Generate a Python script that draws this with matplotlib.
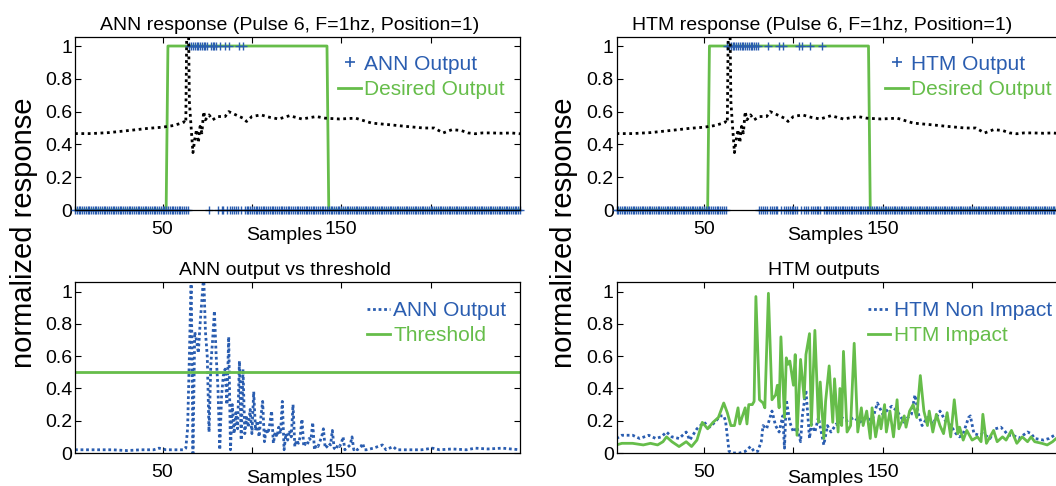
import numpy as np
import matplotlib
matplotlib.use('Agg')
import matplotlib.pyplot as plt
from matplotlib.lines import Line2D

plt.rcParams['font.family'] = ['Liberation Sans', 'DejaVu Sans']

BLUE = '#2a5db0'
GREEN = '#66bd4a'

# --- data ---
samples = np.arange(1, 251)

# samples where the binarised output is 1
ann_ones = [65, 66, 67, 68, 69, 70, 71, 72, 73, 74, 75, 77, 78, 79, 80, 82, 85, 87, 93, 95]
htm_ones = [63, 64, 65, 66, 67, 68, 69, 70, 71, 72, 73, 74, 75, 76, 77, 78, 79, 80,
            86, 92, 94, 103, 105, 109, 116]

desired_x = [1, 52, 53, 142, 143, 250]
desired_y = [0, 0, 1, 1, 0, 0]

threshold_x = [1, 250]
threshold_y = [0.5, 0.5]

# black dotted network response (same in both top panels)
resp_x = [1, 10, 20, 33, 42, 50, 56, 60, 62, 63, 64, 65, 66, 67, 68, 69, 70, 71, 72,
          73, 74, 76, 78, 81, 85, 87, 91, 95, 97, 100, 105, 110, 115, 121, 128, 136,
          141, 149, 158, 167, 177, 186, 196, 202, 207, 212, 217, 221, 225, 229, 234,
          240, 245, 250]
resp_y = [0.466, 0.466, 0.472, 0.487, 0.498, 0.505, 0.515, 0.528, 0.538, 0.53, 1.6,
          0.66, 0.5, 0.35, 0.43, 0.49, 0.41, 0.51, 0.47, 0.6, 0.55, 0.58, 0.55, 0.57,
          0.57, 0.6, 0.58, 0.56, 0.54, 0.57, 0.58, 0.565, 0.555, 0.575, 0.555, 0.57,
          0.56, 0.555, 0.56, 0.53, 0.52, 0.51, 0.5, 0.5, 0.47, 0.49, 0.485, 0.47,
          0.465, 0.47, 0.47, 0.468, 0.47, 0.465]

# ANN continuous output
ann_x = [1, 8, 15, 22, 30, 38, 45, 48, 52, 58,
         60, 61, 62, 63, 64, 65, 66, 67, 68, 69, 70, 71, 72, 73, 74, 75, 76, 77, 78, 79,
         80, 81, 82, 83, 84, 85, 86, 87, 88, 89, 90, 91, 92, 93, 94, 95, 96, 97, 98, 99,
         100, 101, 102, 103, 104, 105, 106, 107, 108, 109, 110, 111, 112, 113, 114, 115,
         116, 117, 118, 119, 120, 121, 122, 123, 124, 125, 126, 127, 128, 129, 130, 131,
         132, 133, 134, 135, 136, 137, 138, 139, 140, 141, 142, 143, 144, 145, 146, 147,
         148, 149, 150, 151, 152, 153, 154, 155, 156, 157, 158, 159, 160, 161, 162, 163,
         164, 168, 173, 175, 179, 181, 188, 195, 201, 205, 212, 220, 225, 232, 240, 245,
         250]
ann_y = [0.02, 0.02, 0.02, 0.02, 0.015, 0.02, 0.02, 0.03, 0.02, 0.02,
         0.02, 0.02, 0.02, 0.03, 0.15, 0.6, 1.1, 0.0, 0.75, 0.7, 0.62, 0.8, 0.95, 1.1,
         0.75, 0.6, 0.13, 0.55, 0.7, 0.88,
         0.6, 0.4, 0.02, 0.35, 0.48, 0.52, 0.3, 0.72, 0.02, 0.3, 0.12, 0.25, 0.15, 0.57,
         0.08, 0.52, 0.12, 0.22, 0.16, 0.27,
         0.12, 0.38, 0.14, 0.2, 0.1, 0.22, 0.32, 0.07, 0.15, 0.12, 0.18, 0.26, 0.06, 0.13,
         0.1, 0.16,
         0.12, 0.32, 0.02, 0.12, 0.08, 0.14, 0.1, 0.3, 0.04, 0.08, 0.06, 0.1, 0.21, 0.04,
         0.06, 0.05,
         0.09, 0.08, 0.19, 0.02, 0.05, 0.04, 0.07, 0.1, 0.15, 0.03, 0.04, 0.06, 0.05,
         0.14, 0.03, 0.02,
         0.05, 0.04, 0.06, 0.1, 0.02, 0.03, 0.04, 0.05, 0.1, 0.02, 0.03, 0.02, 0.03,
         0.04, 0.06, 0.02,
         0.02, 0.03, 0.05, 0.02, 0.04, 0.02, 0.02, 0.02, 0.03, 0.02, 0.025, 0.02, 0.03,
         0.025, 0.03, 0.025, 0.02]

# HTM outputs
htm_non_x = [1, 4, 10, 14, 19, 23, 26, 29, 32, 36, 40, 42, 46, 50, 53, 56, 59, 61, 62,
             64, 66, 70, 73, 76, 78, 80, 82, 83, 85, 88, 90, 92, 94, 95, 96, 98, 100,
             102, 104, 105, 107, 109, 110, 112, 114, 117, 119, 121, 124, 125, 127, 130,
             134, 137, 141, 144, 147, 150, 152, 155, 158, 162, 164, 166, 168, 170, 172,
             175, 178, 182, 185, 188, 191, 193, 195, 198, 199, 201, 204, 206, 210, 213,
             216, 218, 220, 223, 226, 231, 233, 235, 240, 243, 246, 250]
htm_non_y = [0.09, 0.11, 0.11, 0.09, 0.11, 0.09, 0.10, 0.13, 0.10, 0.09, 0.13, 0.08,
             0.15, 0.19, 0.16, 0.19, 0.23, 0.23, 0.2, 0.01, 0.0, 0.0, 0.01, 0.04, 0.01,
             0.01, 0.07, 0.17, 0.15, 0.26, 0.17, 0.13, 0.23, 0.03, 0.33, 0.19, 0.13,
             0.16, 0.07, 0.23, 0.39, 0.09, 0.18, 0.13, 0.22, 0.05, 0.17, 0.13, 0.18,
             0.17, 0.22, 0.2, 0.22, 0.19, 0.22, 0.2, 0.31, 0.24, 0.26, 0.29, 0.26, 0.19,
             0.22, 0.24, 0.36, 0.24, 0.17, 0.22, 0.18, 0.26, 0.2, 0.17, 0.12, 0.10,
             0.12, 0.22, 0.23, 0.12, 0.11, 0.12, 0.09, 0.15, 0.16, 0.14, 0.11, 0.11,
             0.09, 0.13, 0.12, 0.09, 0.08, 0.09, 0.11, 0.12]

htm_imp_x = [1, 4, 10, 16, 20, 24, 27, 29, 32, 36, 40, 43, 46, 49, 52, 55, 58, 61, 63,
             65, 67, 69, 70, 73, 74, 75, 77, 78, 79, 81, 83, 84, 86, 88, 90, 91, 92, 93,
             95, 96, 97, 98, 100, 101, 102, 104, 106, 107, 109, 110, 112, 114, 115, 117,
             118, 120, 122, 123, 125, 126, 127, 128, 130, 132, 134, 136, 138, 139, 141,
             143, 144, 146, 148, 149, 151, 152, 154, 156, 158, 159, 162, 163, 165, 167,
             169, 171, 173, 175, 176, 178, 180, 182, 184, 186, 188, 190, 192, 193, 195,
             197, 200, 203, 205, 206, 208, 210, 212, 214, 217, 219, 222, 225, 228, 231,
             233, 235, 239, 242, 245, 247, 250]
htm_imp_y = [0.05, 0.06, 0.06, 0.05, 0.06, 0.05, 0.07, 0.10, 0.07, 0.04, 0.07, 0.04,
             0.08, 0.19, 0.15, 0.19, 0.22, 0.31, 0.25, 0.17, 0.17, 0.28, 0.18, 0.28,
             0.18, 0.3, 0.3, 0.32, 0.97, 0.33, 0.31, 0.28, 0.99, 0.33, 0.36, 0.42, 0.28,
             0.72, 0.22, 0.59, 0.55, 0.57, 0.42, 0.61, 0.11, 0.58, 0.34, 0.61, 0.74,
             0.17, 0.76, 0.19, 0.44, 0.09, 0.32, 0.54, 0.19, 0.46, 0.13, 0.40, 0.17,
             0.63, 0.13, 0.17, 0.68, 0.13, 0.28, 0.17, 0.26, 0.09, 0.28, 0.10, 0.23,
             0.15, 0.30, 0.13, 0.26, 0.10, 0.33, 0.15, 0.23, 0.16, 0.26, 0.30, 0.22,
             0.48, 0.26, 0.17, 0.26, 0.13, 0.24, 0.17, 0.12, 0.25, 0.10, 0.33, 0.12,
             0.16, 0.08, 0.14, 0.08, 0.10, 0.07, 0.24, 0.06, 0.10, 0.14, 0.07, 0.10,
             0.08, 0.14, 0.06, 0.10, 0.07, 0.10, 0.07, 0.06, 0.05, 0.07, 0.09, 0.07]

ann_bin = [1 if s in ann_ones else 0 for s in samples]
htm_bin = [1 if s in htm_ones else 0 for s in samples]

# --- figure ---
fig = plt.figure(figsize=(10.56, 4.86), dpi=100)
W = 445 / 1056
ax_tl = fig.add_axes([75 / 1056, 276 / 486, W, 173 / 486])
ax_bl = fig.add_axes([75 / 1056, 33 / 486, W, 171 / 486])
ax_tr = fig.add_axes([616.5 / 1056, 276 / 486, W, 173 / 486])
ax_br = fig.add_axes([616.5 / 1056, 33 / 486, W, 171 / 486])


def style(ax, title, tx, ytop):
    ax.set_xlim(1, 250)
    ax.set_ylim(0, ytop)
    ax.set_xticks([50, 100, 150, 200])
    ax.set_xticklabels(['50', '', '150', ''])
    ax.set_yticks([0, 0.2, 0.4, 0.6, 0.8, 1])
    ax.set_yticklabels(['0', '0.2', '0.4', '0.6', '0.8', '1'])
    ax.tick_params(direction='in', top=True, right=True, length=4, width=0.8,
                   labelsize=14)
    ax.tick_params(axis='x', pad=8)
    ax.tick_params(axis='y', pad=2)
    for s in ax.spines.values():
        s.set_linewidth(0.9)
        s.set_color('black')
    ax.set_xlabel('Samples', fontsize=14)
    ax.xaxis.set_label_coords(0.47, -0.1)
    ax.set_title(title, fontsize=14, x=tx, pad=5)


def legend(ax, handles, labels, bx, by):
    ax.legend(handles, labels, loc='upper right', bbox_to_anchor=(bx, by),
              frameon=False, fontsize=15, handlelength=1.1, handletextpad=0.15,
              labelspacing=0.32, borderpad=0, borderaxespad=0,
              labelcolor='linecolor')


# top panels
for ax, binary, name in [(ax_tl, ann_bin, 'ANN'), (ax_tr, htm_bin, 'HTM')]:
    ax.plot(desired_x, desired_y, color=GREEN, lw=2)
    ax.plot(samples, binary, ls='none', marker='+', color=BLUE, ms=6, mew=1,
            clip_on=False)
    ax.plot(resp_x, resp_y, color='black', lw=2.0, ls=(0, (1, 1.3)))
    h1 = Line2D([], [], ls='none', marker='+', color=BLUE, ms=7, mew=1.2)
    h2 = Line2D([], [], color=GREEN, lw=2)
    bx = 0.966 if name == 'ANN' else 0.978
    legend(ax, [h1, h2], [name + ' Output', 'Desired Output'], bx, 0.898)

style(ax_tl, 'ANN response (Pulse 6, F=1hz, Position=1)', 0.483, 1.055)
style(ax_tr, 'HTM response (Pulse 6, F=1hz, Position=1)', 0.463, 1.055)

# bottom left
l1, = ax_bl.plot(ann_x, ann_y, color=BLUE, lw=2, ls=(0, (1, 1)))
l2, = ax_bl.plot(threshold_x, threshold_y, color=GREEN, lw=2)
legend(ax_bl, [l1, l2], ['ANN Output', 'Threshold'], 0.969, 0.89)
style(ax_bl, 'ANN output vs threshold', 0.472, 1.06)

# bottom right
l3, = ax_br.plot(htm_non_x, htm_non_y, color=BLUE, lw=2, ls=(0, (1, 1)))
l4, = ax_br.plot(htm_imp_x, htm_imp_y, color=GREEN, lw=2)
legend(ax_br, [l3, l4], ['HTM Non Impact', 'HTM Impact'], 0.978, 0.89)
style(ax_br, 'HTM outputs', 0.465, 1.06)

fig.text(24 / 1056, 0.522, 'normalized response', rotation=90, ha='center',
         va='center', fontsize=21)
fig.text(564 / 1056, 0.522, 'normalized response', rotation=90, ha='center',
         va='center', fontsize=21)

fig.savefig('out.png', dpi=100)
